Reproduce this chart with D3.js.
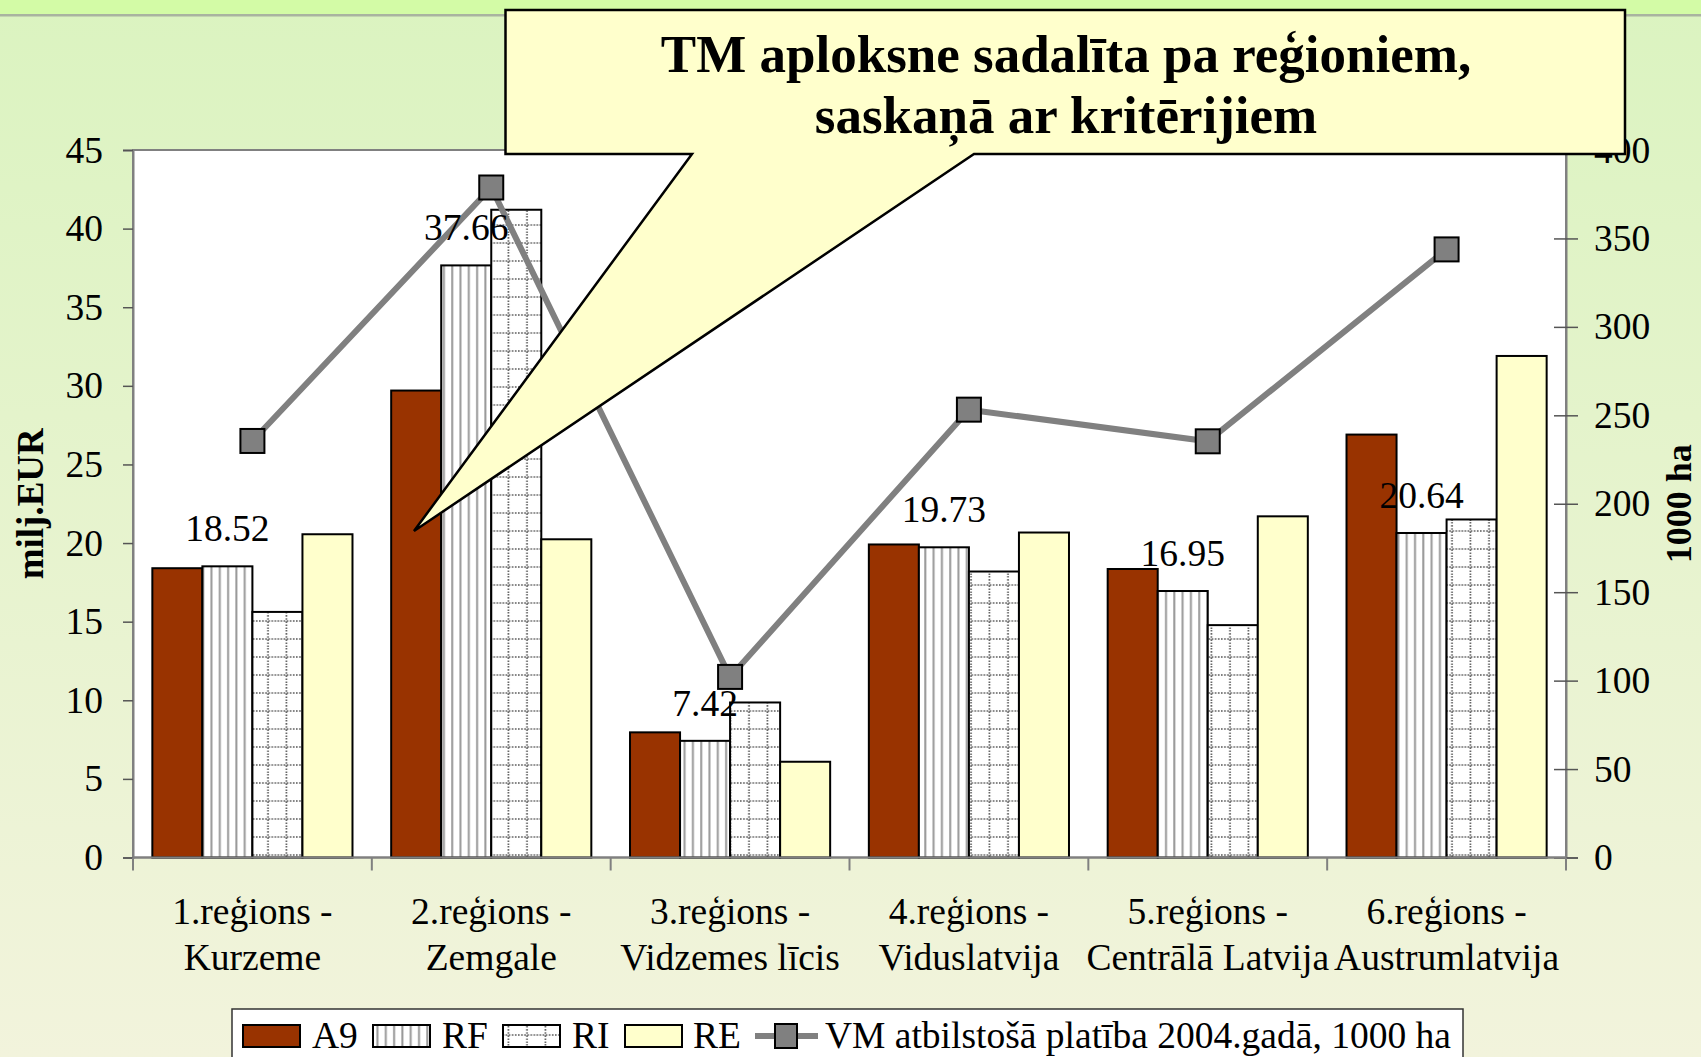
<!DOCTYPE html>
<html>
<head>
<meta charset="utf-8">
<script src="https://cdn.jsdelivr.net/npm/d3@7"></script>
<style>
  html, body { margin: 0; padding: 0; overflow: hidden; }
  svg { display: block; font-family: "Liberation Serif", "Times New Roman", serif; }
</style>
</head>
<body>
<svg width="1701" height="1057"></svg>
<script>
const categories = [
  ['1.reģions -', 'Kurzeme'],
  ['2.reģions -', 'Zemgale'],
  ['3.reģions -', 'Vidzemes līcis'],
  ['4.reģions -', 'Viduslatvija'],
  ['5.reģions -', 'Centrālā Latvija'],
  ['6.reģions -', 'Austrumlatvija'],
];
const seriesNames = ['A9', 'RF', 'RI', 'RE'];
const a9 = [18.4, 29.7, 7.96, 19.91, 18.35, 26.9];
const rf = [18.52, 37.66, 7.42, 19.73, 16.95, 20.64];
const ri = [15.62, 41.2, 9.86, 18.19, 14.78, 21.5];
const re = [20.56, 20.24, 6.09, 20.67, 21.7, 31.9];
const vm = [235.5, 378.8, 102.1, 253.2, 235.3, 343.8];
const lineName = 'VM atbilstošā platība 2004.gadā, 1000 ha';
const leftTicks = [0, 5, 10, 15, 20, 25, 30, 35, 40, 45];
const rightTicks = [0, 50, 100, 150, 200, 250, 300, 350, 400];
const titleLines = ['TM aploksne sadalīta pa reģioniem,', 'saskaņā ar kritērijiem'];

const seriesData = [a9, rf, ri, re];
const fills = ['#993300', 'url(#pat-rf)', 'url(#pat-ri)', '#ffffcc'];

const svg = d3.select('svg');
const W = 1701, H = 1057;
const plot = {left: 133, right: 1566, top: 150, bottom: 857.5};
const fontSize = 37.5;

const defs = svg.append('defs');

// background gradient
const grad = defs.append('linearGradient')
  .attr('id', 'bg').attr('x1', 0).attr('y1', 0).attr('x2', 0).attr('y2', 1);
grad.append('stop').attr('offset', '0%').attr('stop-color', '#dbf3c0');
grad.append('stop').attr('offset', '100%').attr('stop-color', '#f2f3dc');

// vertical stripes (RF)
const pRF = defs.append('pattern')
  .attr('id', 'pat-rf').attr('patternUnits', 'userSpaceOnUse')
  .attr('width', 8.3).attr('height', 10);
pRF.append('rect').attr('width', 8.3).attr('height', 10).attr('fill', '#fff');
pRF.append('rect').attr('x', 3).attr('width', 2).attr('height', 10).attr('fill', '#999');

// dotted grid (RI)
const pRI = defs.append('pattern')
  .attr('id', 'pat-ri').attr('patternUnits', 'userSpaceOnUse')
  .attr('width', 18.5).attr('height', 18);
pRI.append('rect').attr('width', 18.5).attr('height', 18).attr('fill', '#fff');
pRI.append('line').attr('x1', 0).attr('x2', 18.5).attr('y1', 9).attr('y2', 9)
  .attr('stroke', '#555').attr('stroke-width', 1.6).attr('stroke-dasharray', '1.6,1.5');
pRI.append('line').attr('x1', 9).attr('x2', 9).attr('y1', 0).attr('y2', 18)
  .attr('stroke', '#555').attr('stroke-width', 1.6).attr('stroke-dasharray', '1.6,1.5');

// background
svg.append('rect').attr('width', W).attr('height', H).attr('fill', 'url(#bg)');
svg.append('rect').attr('width', W).attr('height', 14).attr('fill', '#d3fba6');
svg.append('rect').attr('y', 14).attr('width', W).attr('height', 2.5).attr('fill', '#a9b3a0');

// scales
const x = d3.scaleBand()
  .domain(d3.range(categories.length))
  .range([plot.left, plot.right])
  .paddingInner(0).paddingOuter(0);
const inset = x.bandwidth() * 0.081;
const xs = d3.scaleBand()
  .domain(seriesNames)
  .range([inset, x.bandwidth() - inset])
  .padding(0);
const y = d3.scaleLinear().domain([0, 45]).range([plot.bottom, plot.top]);
const y2 = d3.scaleLinear().domain([0, 400]).range([plot.bottom, plot.top]);

// plot area
svg.append('rect')
  .attr('x', plot.left).attr('y', plot.top)
  .attr('width', plot.right - plot.left).attr('height', plot.bottom - plot.top)
  .attr('fill', '#fff').attr('stroke', '#808080').attr('stroke-width', 2);

// bars
const groups = svg.append('g').selectAll('g')
  .data(seriesNames)
  .join('g')
  .attr('fill', (d, i) => fills[i]);

groups.selectAll('rect')
  .data((name, si) => seriesData[si].map((v, ci) => ({name, v, ci})))
  .join('rect')
  .attr('x', (d) => x(d.ci) + xs(d.name))
  .attr('y', (d) => y(d.v))
  .attr('width', xs.bandwidth())
  .attr('height', (d) => y(0) - y(d.v))
  .attr('stroke', '#000')
  .attr('stroke-width', 2);

// left axis
const axL = svg.append('g')
  .attr('transform', `translate(${plot.left},0)`)
  .call(d3.axisLeft(y).tickValues(leftTicks).tickSize(10).tickPadding(20));
axL.select('.domain').attr('stroke', '#808080').attr('stroke-width', 2);
axL.selectAll('.tick line').attr('stroke', '#555').attr('stroke-width', 1.5);
axL.selectAll('.tick text')
  .attr('font-size', fontSize).attr('font-family', 'Liberation Serif').attr('fill', '#000');

// right axis
const axR = svg.append('g')
  .attr('transform', `translate(${plot.right},0)`)
  .call(d3.axisRight(y2).tickValues(rightTicks).tickSize(12).tickPadding(16));
axR.select('.domain').attr('stroke', '#808080').attr('stroke-width', 2);
axR.selectAll('.tick line').attr('x1', -12).attr('stroke', '#555').attr('stroke-width', 1.5);
axR.selectAll('.tick text')
  .attr('font-size', fontSize).attr('font-family', 'Liberation Serif').attr('fill', '#000');

// bottom axis
svg.append('line')
  .attr('x1', plot.left).attr('x2', plot.right)
  .attr('y1', plot.bottom).attr('y2', plot.bottom)
  .attr('stroke', '#808080').attr('stroke-width', 2);
svg.append('g').selectAll('line')
  .data(d3.range(categories.length + 1))
  .join('line')
  .attr('x1', (i) => plot.left + i * x.step())
  .attr('x2', (i) => plot.left + i * x.step())
  .attr('y1', plot.bottom).attr('y2', plot.bottom + 13)
  .attr('stroke', '#808080').attr('stroke-width', 2);

const catText = svg.append('g').selectAll('text')
  .data(categories)
  .join('text')
  .attr('text-anchor', 'middle')
  .attr('font-size', fontSize)
  .attr('x', (d, i) => x(i) + x.bandwidth() / 2)
  .attr('y', 924);
catText.selectAll('tspan')
  .data((d) => d)
  .join('tspan')
  .attr('x', function () { return d3.select(this.parentNode).attr('x'); })
  .attr('dy', (d, i) => (i === 0 ? 0 : 46))
  .text((d) => d);

// axis titles
svg.append('text')
  .attr('transform', `translate(43,${(plot.top + plot.bottom) / 2}) rotate(-90)`)
  .attr('text-anchor', 'middle').attr('font-weight', 'bold').attr('font-size', 37)
  .text('milj.EUR');
svg.append('text')
  .attr('transform', `translate(1691,${(plot.top + plot.bottom) / 2}) rotate(-90)`)
  .attr('text-anchor', 'middle').attr('font-weight', 'bold').attr('font-size', 36)
  .text('1000 ha');

// line series
const cx = (i) => x(i) + x.bandwidth() / 2;
svg.append('path')
  .datum(vm)
  .attr('fill', 'none')
  .attr('stroke', '#808080')
  .attr('stroke-width', 6)
  .attr('d', d3.line().x((d, i) => cx(i)).y((d) => y2(d)));
svg.append('g').selectAll('rect')
  .data(vm)
  .join('rect')
  .attr('x', (d, i) => cx(i) - 12)
  .attr('y', (d) => y2(d) - 12)
  .attr('width', 24).attr('height', 24)
  .attr('fill', '#808080').attr('stroke', '#000').attr('stroke-width', 2);

// data labels (RF values)
svg.append('g').selectAll('text')
  .data(rf)
  .join('text')
  .attr('text-anchor', 'middle')
  .attr('font-size', fontSize)
  .attr('x', (d, i) => x(i) + xs('RF') + xs.bandwidth() / 2)
  .attr('y', (d) => y(d) - 25)
  .text((d) => d.toFixed(2));

// callout
const box = {x0: 505.5, y0: 10, x1: 1625, y1: 154};
const tip = [414, 531];
const base = [692, 974];
svg.append('path')
  .attr('d', `M${box.x0},${box.y0}H${box.x1}V${box.y1}H${base[1]}L${tip[0]},${tip[1]}L${base[0]},${box.y1}H${box.x0}Z`)
  .attr('fill', '#ffffcc').attr('stroke', '#000').attr('stroke-width', 2.5)
  .attr('stroke-linejoin', 'miter');
svg.append('g').selectAll('text')
  .data(titleLines)
  .join('text')
  .attr('text-anchor', 'middle')
  .attr('font-weight', 'bold')
  .attr('font-size', 53)
  .attr('x', 1066)
  .attr('y', (d, i) => 72 + i * 61)
  .text((d) => d);

// legend
const lg = svg.append('g');
lg.append('rect').attr('x', 232).attr('y', 1009).attr('width', 1231).attr('height', 60)
  .attr('fill', '#fff').attr('stroke', '#333').attr('stroke-width', 1.5);
const swX = [243, 373, 503, 625];
const txX = [312, 442, 572, 693];
seriesNames.forEach((name, i) => {
  lg.append('rect').attr('x', swX[i]).attr('y', 1025).attr('width', 57).attr('height', 22)
    .attr('fill', fills[i]).attr('stroke', '#000').attr('stroke-width', 2);
  lg.append('text').attr('x', txX[i]).attr('y', 1048).attr('font-size', fontSize).text(name);
});
lg.append('line').attr('x1', 755).attr('x2', 818).attr('y1', 1036).attr('y2', 1036)
  .attr('stroke', '#808080').attr('stroke-width', 6);
lg.append('rect').attr('x', 775).attr('y', 1024).attr('width', 22).attr('height', 24)
  .attr('fill', '#808080').attr('stroke', '#000').attr('stroke-width', 2);
lg.append('text').attr('x', 825).attr('y', 1048).attr('font-size', fontSize).text(lineName);
</script>
</body>
</html>
